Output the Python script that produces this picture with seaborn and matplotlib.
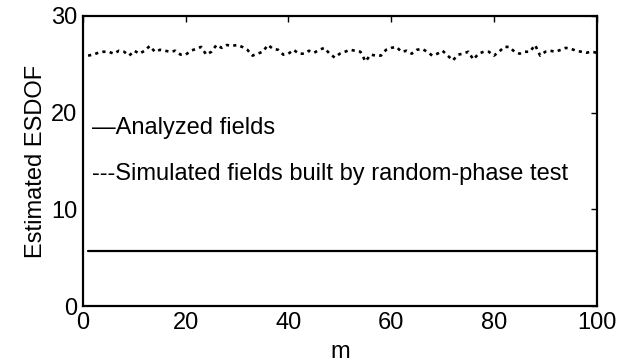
import numpy as np
import pandas as pd
import matplotlib
matplotlib.use("Agg")
import matplotlib.pyplot as plt
import seaborn as sns

# Mode index m and the estimated effective spatial degrees of freedom
m = list(range(1, 101))
analyzed_esdof = [5.7] * 100
simulated_esdof = [
    25.9, 26.0, 26.2, 26.3, 26.3, 26.1, 26.4, 26.3, 25.9, 26.4,
    26.1, 26.4, 26.9, 26.3, 26.5, 26.4, 26.3, 26.4, 26.0, 26.0,
    26.4, 26.6, 26.8, 26.0, 26.3, 27.0, 26.7, 27.0, 26.9, 27.0,
    26.8, 26.5, 25.9, 26.1, 26.3, 27.0, 26.6, 26.5, 26.0, 26.1,
    26.5, 26.1, 26.1, 26.4, 26.2, 26.5, 26.7, 26.1, 25.7, 26.1,
    26.3, 26.5, 26.4, 26.3, 25.3, 26.0, 25.9, 25.9, 26.5, 26.7,
    26.8, 26.3, 26.4, 26.1, 26.5, 26.6, 26.3, 25.9, 26.1, 26.4,
    25.9, 25.4, 26.0, 26.1, 26.3, 25.5, 26.1, 26.3, 26.3, 25.9,
    26.3, 26.8, 26.8, 26.3, 26.1, 26.3, 26.3, 27.0, 25.9, 26.3,
    26.4, 26.3, 26.5, 26.7, 26.6, 26.4, 26.3, 26.2, 26.3, 26.2,
]
x_ticks = [0, 20, 40, 60, 80, 100]
y_ticks = [0, 10, 20, 30]

df = pd.DataFrame({"m": m, "analyzed": analyzed_esdof, "simulated": simulated_esdof})

sns.set_style("white", {"text.color": "black", "axes.labelcolor": "black"})
plt.rcParams["font.family"] = ["Liberation Sans", "DejaVu Sans"]

fig = plt.figure(figsize=(6.43, 3.63), dpi=100)
ax = fig.add_axes([0.129, 0.157, 0.799, 0.799])

sns.lineplot(data=df, x="m", y="analyzed", ax=ax, color="black", linewidth=1.6)
sns.lineplot(data=df, x="m", y="simulated", ax=ax, color="black", linewidth=1.9,
             linestyle=(0, (1.2, 1.6)))

ax.set_xlim(0, 100)
ax.set_ylim(0, 30)
ax.set_xticks(x_ticks)
ax.set_yticks(y_ticks)
ax.tick_params(direction="in", length=4, width=1, top=True, right=True,
               labelsize=17, colors="black", pad=4)
for s in ax.spines.values():
    s.set_color("black")
    s.set_linewidth(1.6)
ax.set_xlabel("m", fontsize=17, color="black", labelpad=5)
ax.set_ylabel("Estimated ESDOF", fontsize=17, color="black", labelpad=3)

ax.text(1.75, 17.75, "\u2014Analyzed fields", fontsize=17, va="baseline", ha="left",
        color="black")
ax.text(1.75, 13.0, "---Simulated fields built by random-phase test", fontsize=17,
        va="baseline", ha="left", color="black")

fig.savefig("out.png", dpi=100)
